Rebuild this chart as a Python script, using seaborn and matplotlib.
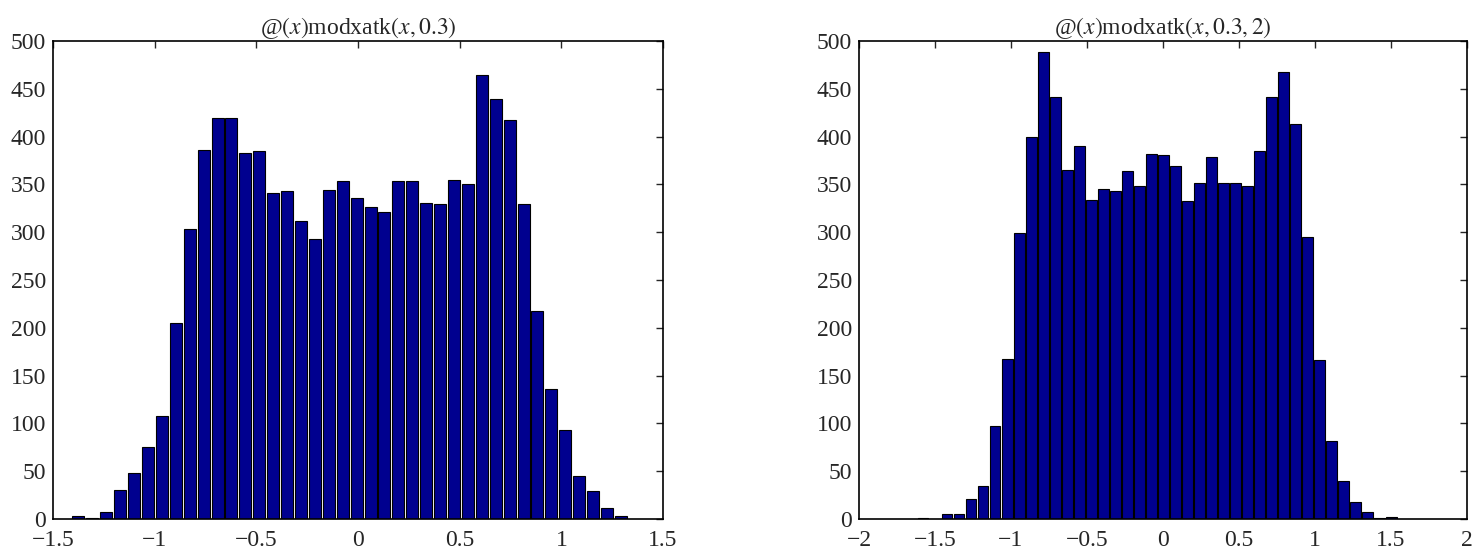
import numpy as np
import pandas as pd
import seaborn as sns
import matplotlib.pyplot as plt
from matplotlib.ticker import FuncFormatter

# left panel: @(x)modxatk(x, 0.3), 40 bins between data min and max
left_title = r"@$(x)$modxatk$(x, 0.3)$"
left_range = (-1.409, 1.327)
left_counts = [3, 1, 7, 30, 48, 75, 108, 205, 303, 386,
               419, 419, 383, 385, 341, 343, 312, 293, 344, 354,
               336, 326, 321, 354, 354, 331, 329, 355, 350, 464,
               439, 417, 329, 218, 136, 93, 45, 29, 11, 3]
left_xticks = [-1.5, -1, -0.5, 0, 0.5, 1, 1.5]

# right panel: @(x)modxatk(x, 0.3, 2)
right_title = r"@$(x)$modxatk$(x, 0.3, 2)$"
right_range = (-1.6165, 1.5435)
right_counts = [1, 0, 5, 5, 21, 35, 97, 167, 299, 400,
                488, 441, 365, 390, 334, 345, 343, 364, 348, 382,
                381, 369, 333, 351, 379, 351, 351, 348, 385, 441,
                468, 413, 295, 166, 82, 40, 18, 7, 1, 2]
right_xticks = [-2, -1.5, -1, -0.5, 0, 0.5, 1, 1.5, 2]

yticks = list(range(0, 501, 50))

BAR_COLOR = "#00008F"
FS = 17


def fmt_tick(v, pos=None):
    return f"{v:g}".replace("-", "\u2212")


def draw_hist(ax, counts, data_range, xticks, title):
    nbins = len(counts)
    width = (data_range[1] - data_range[0]) / nbins
    centers = data_range[0] + width * (np.arange(nbins) + 0.5)
    df = pd.DataFrame({"center": centers, "count": counts})
    sns.histplot(
        data=df,
        x="center",
        weights="count",
        binwidth=width,
        binrange=data_range,
        shrink=0.86,
        color=BAR_COLOR,
        edgecolor="black",
        linewidth=0.8,
        alpha=1,
        ax=ax,
    )
    ax.set_xlim(xticks[0], xticks[-1])
    ax.set_ylim(0, 500)
    ax.set_xticks(xticks)
    ax.set_yticks(yticks)
    ax.xaxis.set_major_formatter(FuncFormatter(fmt_tick))
    ax.set_xlabel("")
    ax.set_ylabel("")
    ax.set_title(title, fontsize=FS, pad=5)
    ax.tick_params(direction="in", length=5, width=1, top=True, right=True,
                   labelsize=FS)
    ax.tick_params(axis="x", pad=8)
    ax.tick_params(axis="y", pad=5)
    for s in ax.spines.values():
        s.set_visible(True)
        s.set_linewidth(1.2)
        s.set_color("black")


def main():
    sns.set_style("white")
    plt.rcParams["font.family"] = ["Liberation Serif", "DejaVu Serif"]
    plt.rcParams["mathtext.fontset"] = "stix"
    plt.rcParams["axes.unicode_minus"] = True

    fig = plt.figure(figsize=(14.8, 5.52), dpi=100)
    ax1 = fig.add_axes([0.0358, 0.0598, 0.4122, 0.8659])
    ax2 = fig.add_axes([0.5804, 0.0598, 0.4108, 0.8659])

    draw_hist(ax1, left_counts, left_range, left_xticks, left_title)
    draw_hist(ax2, right_counts, right_range, right_xticks, right_title)

    fig.savefig("out.png", dpi=100)
    plt.close(fig)


if __name__ == "__main__":
    main()
